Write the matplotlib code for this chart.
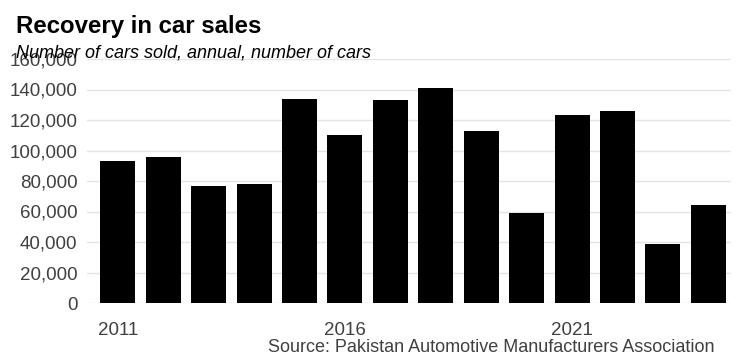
import numpy as np
import matplotlib.pyplot as plt

plt.rcParams['font.family'] = ['Liberation Sans', 'DejaVu Sans']

# annual car sales
years = [2011, 2012, 2013, 2014, 2015, 2016, 2017, 2018, 2019, 2020, 2021, 2022, 2023, 2024]
cars_sold = [93000, 96000, 77000, 78000, 134000, 110000, 133000, 141000, 113000, 59000,
             123000, 126000, 39000, 64000]
x_ticks = [2011, 2016, 2021]
y_ticks = [0, 20000, 40000, 60000, 80000, 100000, 120000, 140000, 160000]

fig = plt.figure(figsize=(7.43, 3.62), dpi=100)
ax = fig.add_axes([87 / 743, 1 - 303 / 362, (731 - 87) / 743, (303 - 59) / 362])

ax.bar(years, cars_sold, width=0.77, color='black', zorder=3)

ax.set_xlim(2011 - 0.68, 2024 + 0.5)
ax.set_ylim(0, 160000)
ax.set_xticks(x_ticks)
ax.set_xticklabels([str(y) for y in x_ticks])
ax.set_yticks(y_ticks)
ax.set_yticklabels(['{:,}'.format(v) for v in y_ticks])
ax.tick_params(axis='both', length=0, labelsize=13.5, colors='#404040')
ax.tick_params(axis='y', pad=7)
ax.tick_params(axis='x', pad=14)
ax.grid(axis='y', color='#e4e4e4', linewidth=1, zorder=0)
for s in ax.spines.values():
    s.set_visible(False)

fig.text(16 / 743, 1 - 27 / 362, 'Recovery in car sales', fontsize=17.3, fontweight='bold',
         va='center', ha='left')
fig.text(16 / 743, 1 - 53 / 362, 'Number of cars sold, annual, number of cars', fontsize=13,
         style='italic', va='center', ha='left')
fig.text(715 / 743, 1 - 348 / 362, 'Source: Pakistan Automotive Manufacturers Association',
         fontsize=13, color='#404040', va='center', ha='right')

fig.savefig('out.png', dpi=100)
